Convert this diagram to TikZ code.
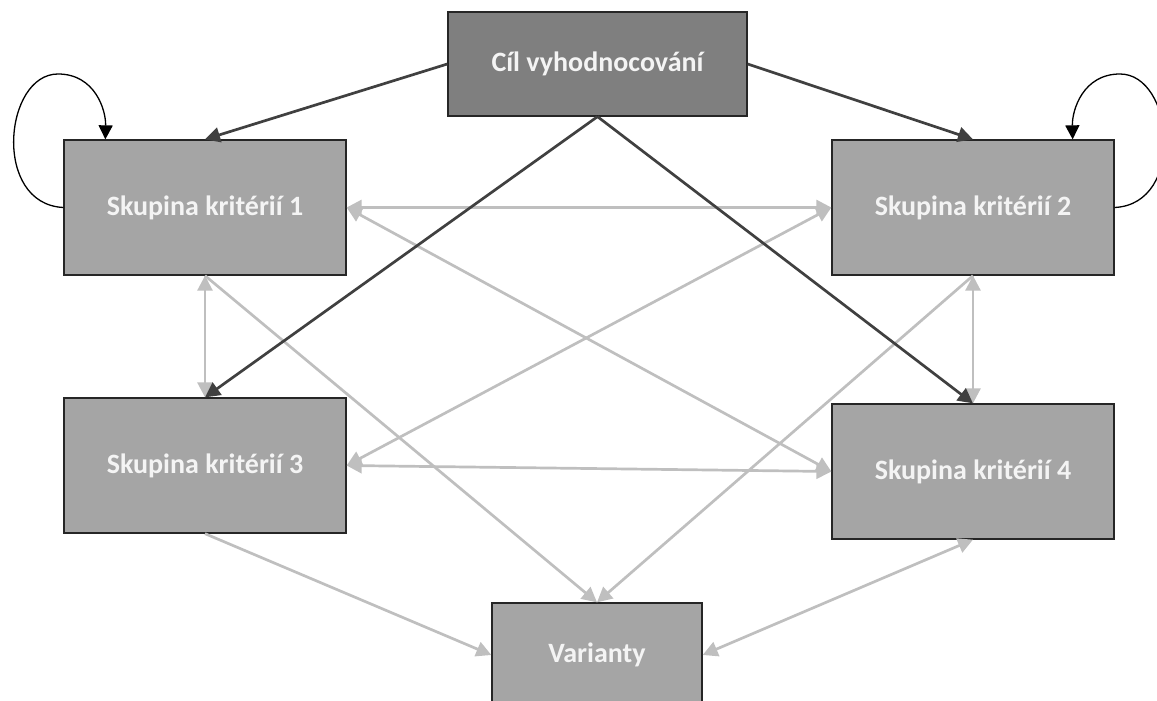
\documentclass[tikz,border=0pt]{standalone}
\usepackage{fontspec}
\setmainfont{Carlito}
\definecolor{kGoal}{HTML}{7F7F7F}
\definecolor{kGroup}{HTML}{A5A5A5}
\definecolor{kBorder}{HTML}{262626}
\definecolor{kDark}{HTML}{404040}
\definecolor{kLight}{HTML}{BFBFBF}
\definecolor{kText}{HTML}{F4F4F4}
\usetikzlibrary{arrows.meta}

\tikzset{
  groupbox/.style={draw=kBorder, line width=1.3pt, fill=kGroup, inner sep=0pt,
    minimum width=282pt, minimum height=135pt, text=kText,
    font=\fontsize{28}{32}\selectfont\bfseries},
  goalbox/.style={groupbox, fill=kGoal, minimum width=299pt, minimum height=104pt},
  altbox/.style={groupbox, minimum width=210pt, minimum height=104pt},
  grayboth/.style={kLight, line width=2.7pt,
    {Triangle[length=15pt,width=15pt]}-{Triangle[length=15pt,width=15pt]}},
  grayto/.style={kLight, line width=2.7pt, -{Triangle[length=15pt,width=15pt]}},
  darkto/.style={kDark, line width=2.7pt, -{Triangle[length=15pt,width=15pt]}},
  selfloop/.style={black, line width=1.3pt, -{Triangle[length=14pt,width=14pt]}}
}

\begin{document}
\begin{tikzpicture}[x=1pt, y=-1pt]
  \useasboundingbox (0,0) rectangle (1157,701);
  \clip (0,0) rectangle (1157,701);

  \node[goalbox] (goal) at (597.5,64) {Cíl vyhodnocování};
  \node[groupbox] (s1) at (205,207.5) {Skupina kritérií 1};
  \node[groupbox] (s2) at (973,207.5) {Skupina kritérií 2};
  \node[groupbox] (s3) at (205,465.5) {Skupina kritérií 3};
  \node[groupbox] (s4) at (973,471.5) {Skupina kritérií 4};
  \node[altbox] (var) at (597,655) {Varianty};

  % vazby mezi skupinami
  \draw[grayboth] (s1.east) -- (s2.west);
  \draw[grayboth] (s1.east) -- (s4.west);
  \draw[grayboth] (s3.east) -- (s2.west);
  \draw[grayboth] (s3.east) -- (s4.west);
  \draw[grayboth] (s1.south) -- (s3.north);
  \draw[grayboth] (s2.south) -- (s4.north);
  \draw[grayto] (s1.south) -- (var.north);
  \draw[grayto] (s2.south) -- (var.north);
  \draw[grayto] (s3.south) -- (var.west);
  \draw[grayboth] (s4.south) -- (var.east);

  % od cile
  \draw[darkto] (goal.west) -- (s1.north);
  \draw[darkto] (goal.east) -- (s2.north);
  \draw[darkto] (goal.south) -- (s3.north);
  \draw[darkto] (goal.south) -- (s4.north);

  % zpetne vazby
  \draw[selfloop] (s1.west) .. controls (-8,204) and (4,74) .. (58,74)
    .. controls (95,74) and (106,110) .. ([xshift=42pt]s1.north west);
  \draw[selfloop] (s2.east) .. controls (1186,204) and (1174,74) .. (1120,74)
    .. controls (1083,74) and (1072,110) .. ([xshift=-42pt]s2.north east);
\end{tikzpicture}
\end{document}
